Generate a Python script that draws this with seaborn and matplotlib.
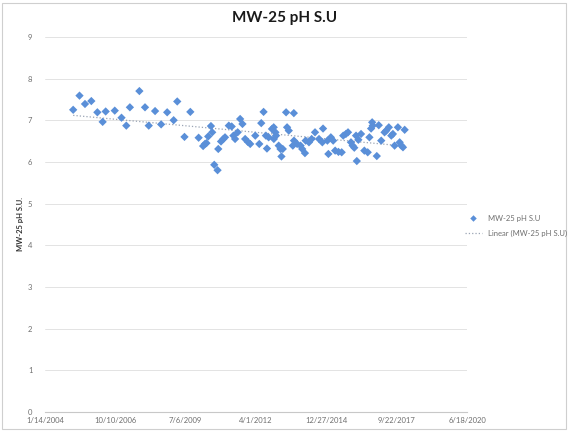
import matplotlib
matplotlib.use("Agg")
import matplotlib.pyplot as plt
import matplotlib.dates as mdates
from matplotlib.lines import Line2D
from matplotlib.patches import Rectangle
import pandas as pd
import seaborn as sns

# Field pH readings at monitoring well MW-25
sample_dates = [
    "2005-02-18", "2005-05-19", "2005-08-05", "2005-11-03", "2006-01-28",
    "2006-04-13", "2006-05-26", "2006-10-02", "2007-01-06", "2007-03-15",
    "2007-05-05", "2007-09-17", "2007-12-06", "2008-01-28", "2008-04-27",
    "2008-07-22", "2008-10-16", "2009-01-16", "2009-03-08", "2009-06-19",
    "2009-09-10", "2010-01-06", "2010-03-11", "2010-04-05", "2010-04-27",
    "2010-05-22", "2010-06-30", "2010-07-18", "2010-08-16", "2010-10-02",
    "2010-10-12", "2010-11-20", "2010-12-23", "2011-01-16", "2011-03-11",
    "2011-04-21", "2011-05-15", "2011-06-08", "2011-07-15", "2011-08-19",
    "2011-09-21", "2011-10-29", "2011-12-06", "2012-01-09", "2012-03-21",
    "2012-05-17", "2012-06-14", "2012-07-17", "2012-08-19", "2012-09-03",
    "2012-09-27", "2012-11-13", "2012-12-08", "2013-01-01", "2012-12-10",
    "2013-01-10", "2013-02-17", "2013-03-14", "2013-03-28", "2013-04-16",
    "2013-06-02", "2013-06-16", "2013-07-10", "2013-09-06", "2013-09-20",
    "2013-09-22", "2013-11-06", "2013-12-25", "2014-01-17", "2014-02-25",
    "2014-03-07", "2014-04-23", "2014-05-31", "2014-07-18", "2014-09-13",
    "2014-10-30", "2014-11-09", "2015-01-10", "2015-01-24", "2015-02-28",
    "2015-04-02", "2015-04-30", "2015-06-16", "2015-08-01", "2015-08-23",
    "2015-09-30", "2015-10-30", "2015-12-11", "2016-01-03", "2016-01-27",
    "2016-02-21", "2016-03-03", "2016-03-25", "2016-05-02", "2016-06-18",
    "2016-08-05", "2016-08-29", "2016-09-22", "2016-10-07", "2016-10-15",
    "2016-12-12", "2017-01-09", "2017-02-13", "2017-04-01", "2017-04-25",
    "2017-06-01", "2017-07-06", "2017-07-29", "2017-08-22", "2017-10-08",
    "2017-11-02", "2017-11-26", "2017-12-19", "2018-01-12",
]
ph_values = [
    7.25, 7.59, 7.39, 7.46, 7.19,
    6.96, 7.21, 7.23, 7.06, 6.87,
    7.31, 7.70, 7.31, 6.87, 7.22,
    6.90, 7.19, 7.00, 7.45, 6.60,
    7.20, 6.58, 6.38, 6.43, 6.45,
    6.61, 6.86, 6.71, 5.93, 5.80,
    6.31, 6.49, 6.55, 6.59, 6.87,
    6.85, 6.63, 6.55, 6.71, 7.03,
    6.91, 6.55, 6.48, 6.43, 6.63,
    6.43, 6.93, 7.20, 6.63, 6.32,
    6.59, 6.79, 6.83, 6.71, 6.55,
    6.63, 6.39, 6.31, 6.13, 6.31,
    7.19, 6.83, 6.75, 6.39, 7.17,
    6.51, 6.43, 6.39, 6.31, 6.21,
    6.51, 6.47, 6.55, 6.71, 6.55,
    6.47, 6.80, 6.51, 6.19, 6.59,
    6.51, 6.27, 6.24, 6.23, 6.63,
    6.67, 6.71, 6.47, 6.39, 6.34,
    6.63, 6.02, 6.53, 6.67, 6.27,
    6.23, 6.59, 6.80, 6.95, 6.87,
    6.14, 6.88, 6.51, 6.71, 6.75,
    6.83, 6.63, 6.67, 6.39, 6.83,
    6.47, 6.39, 6.35, 6.77,
]
tick_dates = ["2004-01-14", "2006-10-10", "2009-07-06", "2012-04-01",
              "2014-12-27", "2017-09-22", "2020-06-18"]
tick_labels = ["1/14/2004", "10/10/2006", "7/6/2009", "4/1/2012",
               "12/27/2014", "9/22/2017", "6/18/2020"]
y_ticks = [0, 1, 2, 3, 4, 5, 6, 7, 8, 9]
series_name = "MW-25 pH S.U"
trend_name = "Linear (MW-25 pH S.U)"

sns.set_theme(style="white")
plt.rcParams["font.family"] = ["Lato", "DejaVu Sans"]

df = pd.DataFrame({"date": pd.to_datetime(sample_dates), "ph": ph_values})
df["t"] = mdates.date2num(df["date"])
tick_pos = mdates.date2num(pd.to_datetime(tick_dates))

blue = "#5a8fd8"
trend_color = "#9aa4b4"

fig = plt.figure(figsize=(5.69, 4.34), dpi=100)
ax = fig.add_axes([0.079, 0.051, 0.742, 0.864])

sns.scatterplot(data=df, x="t", y="ph", marker="D", s=18, color=blue,
                edgecolor="none", ax=ax, zorder=3, legend=False)
sns.regplot(data=df, x="t", y="ph", scatter=False, ci=None, ax=ax,
            line_kws=dict(color=trend_color, lw=0.9, ls=":", zorder=2))

ax.set_xlim(tick_pos[0], tick_pos[-1])
ax.set_ylim(0, 9)
ax.set_xticks(tick_pos)
ax.set_xticklabels(tick_labels)
ax.set_yticks(y_ticks)
ax.set_yticklabels([str(v) for v in y_ticks])
ax.set_xlabel("")
ax.set_ylabel("MW-25 pH S.U.", fontsize=5.5, color="#333333",
              fontweight="bold", labelpad=3)

ax.yaxis.grid(True, color="#dedede", lw=0.6)
ax.xaxis.grid(False)
for side in ["top", "right", "left"]:
    ax.spines[side].set_visible(False)
ax.spines["bottom"].set_color("#c8c8c8")
ax.spines["bottom"].set_linewidth(0.8)
ax.tick_params(axis="both", length=0, labelsize=5.5, colors="#6f6f6f")
ax.tick_params(axis="y", pad=9)
ax.tick_params(axis="x", pad=4)

fig.text(0.5, 1 - 18 / 434, "MW-25 pH S.U", ha="center", va="center",
         fontsize=11, fontweight="bold", color="#1a1a1a")

handles = [
    Line2D([], [], marker="D", ls="none", color=blue, markersize=3.3,
           markeredgewidth=0),
    Line2D([], [], color=trend_color, lw=0.9, ls=":"),
]
leg = fig.legend(handles, [series_name, trend_name], loc="upper left",
                 bbox_to_anchor=(462 / 569, 1 - 212 / 434), frameon=False,
                 fontsize=5.5, handlelength=2.2, labelspacing=1.0,
                 borderaxespad=0)
for txt in leg.get_texts():
    txt.set_color("#6f6f6f")

fig.patches.append(Rectangle((0.004, 0.012), 0.99, 0.982,
                             transform=fig.transFigure, fill=False,
                             ec="#cfcfcf", lw=0.8))

fig.savefig("out.png", dpi=100, facecolor="white")
